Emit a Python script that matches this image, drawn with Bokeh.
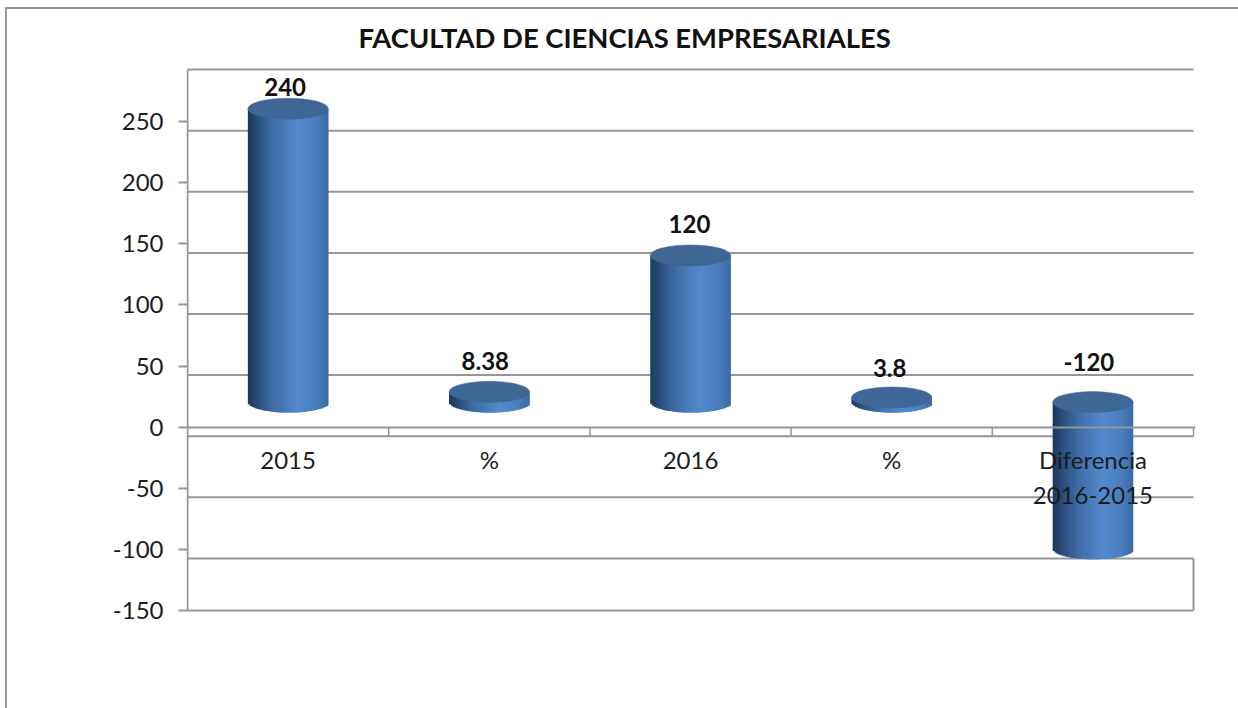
import math
from bokeh.plotting import figure
from bokeh.embed import file_html
from bokeh.resources import INLINE
from bokeh.models import Range1d, FixedTicker
from bokeh.core.properties import value

title_text = "FACULTAD DE CIENCIAS EMPRESARIALES"
categories = ["2015", "%", "2016", "%", "Diferencia\n2016-2015"]
values = [240, 8.38, 120, 3.8, -120]
labels = ["240", "8.38", "120", "3.8", "-120"]
y_ticks = [-150, -100, -50, 0, 50, 100, 150, 200, 250]
y_tick_labels = ["-150", "-100", "-50", "0", "50", "100", "150", "200", "250"]

FONT = "Lato"
GRAY = "#969696"
TEXT = "#1c1c1c"
WALL_DEPTH = 7.4     # wall gridlines sit below the tick, in y units
BAR_DEPTH = 20.5     # bar bases sit above zero, in y units
BAR_W = 0.4
CAP_H = 17.2
PX_X, PX_Y = 201.4, 1.2178

stops = [(0.0, (0x1e, 0x38, 0x5c)), (0.15, (0x2e, 0x52, 0x82)), (0.32, (0x3f, 0x6e, 0xa8)),
         (0.62, (0x52, 0x8a, 0xce)), (0.85, (0x4a, 0x7e, 0xbe)), (1.0, (0x3c, 0x6b, 0xa6))]

def shade(t):
    for (a, ca), (b, cb) in zip(stops, stops[1:]):
        if t <= b:
            f = (t - a) / (b - a)
            return "#%02x%02x%02x" % tuple(round(x + (y - x) * f) for x, y in zip(ca, cb))
    return "#3c6ba6"

p = figure(width=1231, height=699, output_backend="svg", toolbar_location=None,
           x_range=Range1d(-0.5 - 1 / PX_X, 4.5 + 2 / PX_X),
           y_range=Range1d(-150 - 2 / PX_Y, 300),
           min_border_left=179, min_border_right=45, min_border_top=51, min_border_bottom=98,
           outline_line_color=None, background_fill_color="white", border_fill_color="white",
           styles={"border-left": f"2px solid {GRAY}", "border-top": f"2px solid {GRAY}",
                   "margin-left": "5px", "margin-top": "7px", "box-sizing": "content-box"})

p.title.text = title_text
p.title.align = "left"
p.title.offset = 172
p.title.standoff = 14
p.title.text_font = FONT
p.title.text_font_style = "bold"
p.title.text_font_size = "27.4px"
p.title.text_color = "#111111"
p.grid.visible = False

# walls
wall = [t - WALL_DEPTH for t in y_ticks if t > -150] + [300 - WALL_DEPTH]
p.segment(x0=[-0.5] * len(wall), x1=[4.5] * len(wall), y0=wall, y1=wall, line_color=GRAY, line_width=2)
p.segment(x0=[-0.5, -0.5], x1=[4.5, -0.5], y0=[-150, -150], y1=[-150, 300 - WALL_DEPTH],
          line_color=GRAY, line_width=2)
floor_x = [i + 0.5 for i in range(len(values))]
p.segment(x0=floor_x, x1=floor_x, y0=[0] * len(floor_x), y1=[-WALL_DEPTH] * len(floor_x),
          line_color=GRAY, line_width=1.5)
p.segment(x0=[4.5], x1=[4.5], y0=[-100 - WALL_DEPTH], y1=[-150], line_color=GRAY, line_width=2)

# cylinders: overlapping strips painted left to right give a seamless gradient
N = 44
for i, v in enumerate(values):
    top = max(v, 0) + BAR_DEPTH
    bot = min(v, 0) + BAR_DEPTH
    l, r, t, b, c = [], [], [], [], []
    for k in range(N):
        u = (k + 0.5) / N
        arc = CAP_H / 2 * math.sqrt(max(0.0, 1 - (2 * u - 1) ** 2))
        l.append(i - BAR_W / 2 + BAR_W * k / N)
        r.append(i - BAR_W / 2 + BAR_W * min(k + 2, N) / N)
        t.append(top)
        b.append(bot - arc)
        c.append(shade(u))
    p.quad(left=l, right=r, top=t, bottom=b, fill_color=c, line_color=None)
    p.ellipse(x=[i], y=[top], width=BAR_W, height=CAP_H, fill_color="#3e6796", line_color="#3e6796",
              line_width=0.5)

# data labels
xs = list(range(len(values)))
ys = [max(v, 0) + BAR_DEPTH for v in values]
p.text(x=xs, y=ys, text=labels, x_offset=[-3, -4, -1, -2, -4], y_offset=[-22, -31, -31, -29, -40],
       text_align="center", text_baseline="middle",
       text_font=value(FONT), text_font_style="bold", text_font_size="24px", text_color="#111111")

# axes
ya = p.yaxis[0]
ya.ticker = FixedTicker(ticks=y_ticks)
ya.major_label_overrides = dict(zip(y_ticks, y_tick_labels))
ya.axis_line_color = None
ya.major_tick_line_color = GRAY
ya.major_tick_line_width = 2
ya.major_tick_out = 8
ya.major_tick_in = 1
ya.minor_tick_line_color = None
ya.major_label_standoff = 15
ya.major_label_text_font = FONT
ya.major_label_text_font_size = "24px"
ya.major_label_text_color = TEXT

xa = p.xaxis[0]
xa.ticker = FixedTicker(ticks=xs)
xa.major_label_overrides = {i: c for i, c in enumerate(categories)}
xa.fixed_location = 0
xa.axis_line_color = GRAY
xa.axis_line_width = 2
xa.major_tick_line_color = None
xa.minor_tick_line_color = None
xa.major_label_standoff = 12
xa.major_label_text_font = FONT
xa.major_label_text_font_size = "24px"
xa.major_label_text_color = TEXT

open("out.html", "w").write(file_html(p, INLINE))
